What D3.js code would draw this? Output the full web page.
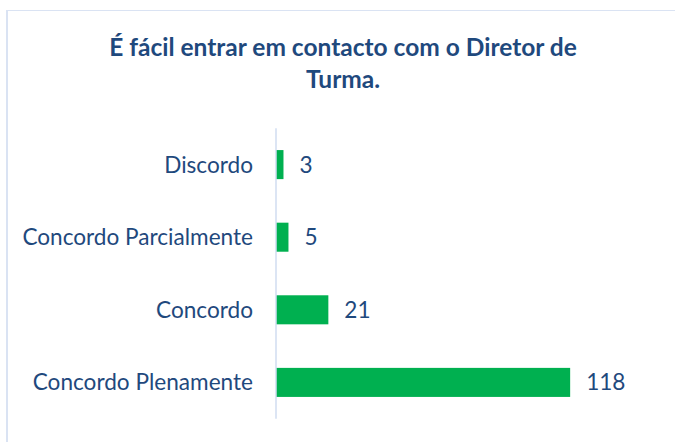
<!DOCTYPE html>
<html>
<head>
<meta charset="utf-8">
<script src="https://cdn.jsdelivr.net/npm/d3@7"></script>
<style>
  html, body { margin: 0; padding: 0; background: #fff; }
  svg { display: block; }
</style>
</head>
<body>
<svg id="chart" width="675" height="442"></svg>
<script>
const categories = ["Discordo", "Concordo Parcialmente", "Concordo", "Concordo Plenamente"];
const values = [3, 5, 21, 118];
const titleLines = ["É fácil entrar em contacto com o Diretor de", "Turma."];

const svg = d3.select("#chart");
const W = 675, H = 442;
const textColor = "#1F497D";
const font = "Lato, 'Open Sans', sans-serif";

// outer border (left and top visible)
svg.append("line").attr("x1", 7).attr("x2", 7).attr("y1", 10.5).attr("y2", H)
  .attr("stroke", "#DAE3F3").attr("stroke-width", 2);
svg.append("line").attr("x1", 6).attr("x2", W).attr("y1", 10.5).attr("y2", 10.5)
  .attr("stroke", "#DAE3F3").attr("stroke-width", 1.2);

// title
svg.append("g").selectAll("text").data(titleLines).join("text")
  .attr("x", 343).attr("y", (d, i) => 56 + i * 31.5)
  .attr("text-anchor", "middle")
  .attr("font-family", font).attr("font-weight", "bold").attr("font-size", 24.5)
  .attr("fill", textColor).text(d => d);

const x = d3.scaleLinear().domain([0, 140]).range([276, 625]);
const y = d3.scaleBand().domain(categories).range([128.3, 418.7])
  .paddingInner(0.6).paddingOuter(0.3);

// bars
svg.append("g").selectAll("rect").data(values).join("rect")
  .attr("x", x(0))
  .attr("y", (d, i) => y(categories[i]))
  .attr("width", d => x(d) - x(0))
  .attr("height", y.bandwidth())
  .attr("fill", "#00B050");

// axis line
const yAxis = d3.axisLeft(y).tickSize(0).tickPadding(23);
const gAxis = svg.append("g").attr("transform", `translate(${x(0)},0)`).call(yAxis);
gAxis.select(".domain").attr("stroke", "#D0DDF0").attr("stroke-width", 1.5)
  .attr("d", `M0,${y.range()[0]}V${y.range()[1]}`);
gAxis.selectAll(".tick text")
  .attr("font-family", font).attr("font-size", 22.6).attr("fill", textColor)
  .attr("dy", "0.35em");

// value labels
svg.append("g").selectAll("text").data(values).join("text")
  .attr("x", d => x(d) + 16)
  .attr("y", (d, i) => y(categories[i]) + y.bandwidth() / 2)
  .attr("dy", "0.35em")
  .attr("font-family", font).attr("font-size", 22.6).attr("fill", textColor)
  .text(d => d);
</script>
</body>
</html>
